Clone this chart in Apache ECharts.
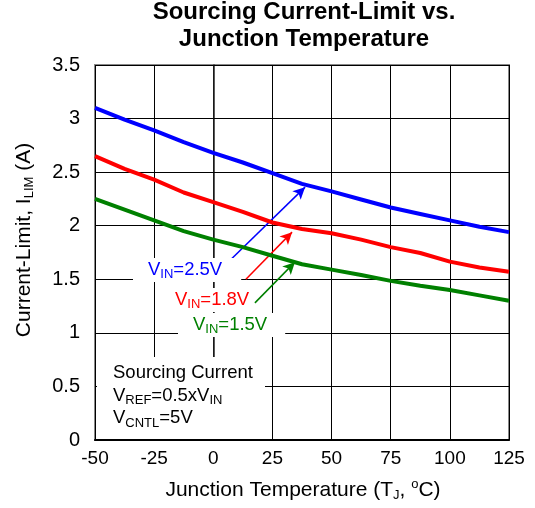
<!DOCTYPE html>
<html>
<head>
<meta charset="utf-8">
<script src="https://cdn.jsdelivr.net/npm/echarts@6/dist/echarts.min.js"></script>
<style>html,body{margin:0;padding:0;background:#fff}#c{width:535px;height:508px}</style>
</head>
<body>
<div id="c"></div>
<script>
var temps = [-50, -37.5, -25, -12.5, 0, 12.5, 25, 37.5, 50, 62.5, 75, 87.5, 100, 112.5, 125];
var vin25 = [3.10, 2.99, 2.89, 2.78, 2.68, 2.59, 2.49, 2.39, 2.32, 2.245, 2.17, 2.11, 2.05, 1.99, 1.94];
var vin18 = [2.65, 2.53, 2.43, 2.31, 2.22, 2.13, 2.03, 1.97, 1.93, 1.87, 1.80, 1.745, 1.665, 1.61, 1.57];
var vin15 = [2.25, 2.15, 2.05, 1.95, 1.87, 1.80, 1.72, 1.64, 1.59, 1.54, 1.485, 1.44, 1.40, 1.35, 1.30];
var xTicks = [-50, -25, 0, 25, 50, 75, 100, 125];
var yTicks = [0, 0.5, 1, 1.5, 2, 2.5, 3, 3.5];

var FF = '"Liberation Sans", Arial, sans-serif';
function pairs(vals){ return temps.map(function(t,i){ return [t, vals[i]]; }); }
function arrow(color, a, b){
  return {
    silent: true, symbol: ['none','arrow'], symbolSize: [9, 12],
    label: {show:false}, lineStyle: {color: color, width: 1.5, type: 'solid'},
    data: [[{coord: a}, {coord: b}]]
  };
}
function richFor(color, size, subSize, lh){
  return {
    n: {fontSize: size, fontFamily: FF, lineHeight: lh, fill: color},
    s: {fontSize: subSize, fontFamily: FF, lineHeight: subSize + 1, verticalAlign: 'bottom', fill: color}
  };
}

var chart = echarts.init(document.getElementById('c'));
chart.setOption({
  animation: false,
  backgroundColor: '#fff',
  grid: {left: 95, right: 26, top: 65, bottom: 68, show: true, borderColor: '#888', borderWidth: 2, backgroundColor: 'transparent'},
  xAxis: {
    type: 'value', min: xTicks[0], max: xTicks[xTicks.length-1], interval: 25,
    axisLine: {show: true, onZero: false, lineStyle: {color: '#000', width: 2}},
    axisTick: {show: true, inside: true, length: 5, lineStyle: {color: '#000'}},
    axisLabel: {color: '#000', fontSize: 19, fontFamily: FF, margin: 9},
    splitLine: {show: true, lineStyle: {color: '#000', width: 1}}
  },
  yAxis: {
    type: 'value', min: yTicks[0], max: yTicks[yTicks.length-1], interval: 0.5,
    axisLine: {show: true, lineStyle: {color: '#222', width: 1.5}},
    axisTick: {show: true, inside: true, length: 5, lineStyle: {color: '#000'}},
    axisLabel: {color: '#000', fontSize: 20, fontFamily: FF, margin: 15},
    splitLine: {show: true, lineStyle: {color: '#000', width: 1}}
  },
  graphic: [
    {type: 'text', x: 304, y: -1, z: 10, style: {text: 'Sourcing Current-Limit vs.\nJunction Temperature', font: 'bold 24px ' + FF, fill: '#000', textAlign: 'center', textVerticalAlign: 'top', lineHeight: 27}},
    {type: 'text', x: 24, y: 240, rotation: Math.PI/2, z: 10, style: {
      text: '{n|Current-Limit, I}{s|LIM}{n| (A)}', textAlign: 'center', textVerticalAlign: 'middle',
      rich: richFor('#000', 21, 13, 24)}},
    {type: 'text', x: 303, y: 490, z: 10, style: {
      text: '{n|Junction Temperature (T}{s|J}{n|, }{p|o}{n|C)}', textAlign: 'center', textVerticalAlign: 'middle',
      rich: {n: {fontSize: 21, fontFamily: FF, lineHeight: 24, fill: '#000'}, s: {fontSize: 13, fontFamily: FF, lineHeight: 14, verticalAlign: 'bottom', fill: '#000'}, p: {fontSize: 13, fontFamily: FF, lineHeight: 14, verticalAlign: 'top', fill: '#000'}}}},
    {type: 'rect', z: 5, shape: {x: 97, y: 357, width: 168, height: 82}, style: {fill: '#fff'}},
    {type: 'text', x: 113, y: 362, z: 10, style: {
      text: '{n|Sourcing Current}\n{n|V}{s|REF}{n|=0.5xV}{s|IN}\n{n|V}{s|CNTL}{n|=5V}', textAlign: 'left', textVerticalAlign: 'top',
      rich: richFor('#000', 18.5, 13, 22.5)}},
    {type: 'text', x: 133, y: 270, z: 10, style: {
      text: '{n|V}{s|IN}{n|=2.5V}', textAlign: 'left', textVerticalAlign: 'middle', backgroundColor: '#fff', padding: [1, 19, 1, 15],
      rich: richFor('#0000ff', 18.5, 13, 22)}},
    {type: 'text', x: 171, y: 300, z: 10, style: {
      text: '{n|V}{s|IN}{n|=1.8V}', textAlign: 'left', textVerticalAlign: 'middle', backgroundColor: '#fff', padding: [1, 4, 1, 4],
      rich: richFor('#ff0000', 18.5, 13, 22)}},
    {type: 'text', x: 178, y: 325, z: 10, style: {
      text: '{n|V}{s|IN}{n|=1.5V}', textAlign: 'left', textVerticalAlign: 'middle', backgroundColor: '#fff', padding: [1, 18, 1, 15],
      rich: richFor('#008000', 18.5, 13, 22)}}
  ],
  series: [
    {type: 'line', data: pairs(vin25), showSymbol: false, lineStyle: {color: '#0000ff', width: 4}, itemStyle: {color: '#0000ff'}, z: 20,
     markLine: arrow('#0000ff', [5.8, 1.65], [38.8, 2.36])},
    {type: 'line', data: pairs(vin18), showSymbol: false, lineStyle: {color: '#ff0000', width: 4}, itemStyle: {color: '#ff0000'}, z: 20,
     markLine: arrow('#ff0000', [13.8, 1.50], [33.3, 1.94])},
    {type: 'line', data: pairs(vin15), showSymbol: false, lineStyle: {color: '#008000', width: 4}, itemStyle: {color: '#008000'}, z: 20,
     markLine: arrow('#008000', [17.6, 1.28], [34.5, 1.66])}
  ]
});
</script>
</body>
</html>
